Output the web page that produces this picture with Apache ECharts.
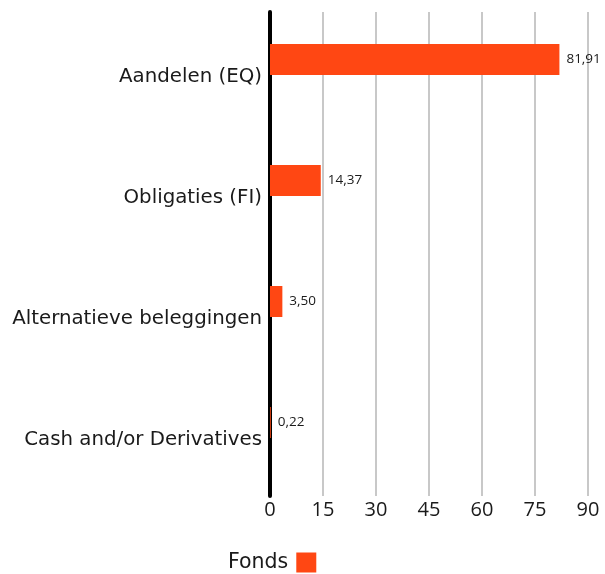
<!DOCTYPE html>
<html>
<head>
<meta charset="utf-8">
<script src="https://cdn.jsdelivr.net/npm/echarts@6/dist/echarts.min.js"></script>
<style>
html,body{margin:0;padding:0;background:#fff;}
#chart{width:605px;height:574px;}
</style>
</head>
<body>
<div id="chart"></div>
<script>
const categories = ['Aandelen (EQ)', 'Obligaties (FI)', 'Alternatieve beleggingen', 'Cash and/or Derivatives'];
const fondsValues = [81.91, 14.37, 3.50, 0.22];
const xTicks = [0, 15, 30, 45, 60, 75, 90];
const seriesName = 'Fonds';

const FONT = 'Open Sans';
const LFONT = 'DejaVu Sans';
const chart = echarts.init(document.getElementById('chart'), null, {renderer: 'canvas'});
chart.setOption({
  animation: false,
  textStyle: {fontFamily: FONT},
  grid: {left: 270, right: 17, top: 12, bottom: 78, containLabel: false},
  xAxis: {
    type: 'value',
    min: xTicks[0],
    max: xTicks[xTicks.length - 1],
    interval: 15,
    axisLine: {show: false},
    axisTick: {show: false},
    splitLine: {show: true, lineStyle: {color: '#c8c8c8', width: 2}},
    axisLabel: {color: '#1a1a1a', fontSize: 20, fontFamily: FONT, margin: 4}
  },
  yAxis: {
    type: 'category',
    data: categories,
    inverse: true,
    axisLine: {show: true, lineStyle: {color: '#000', width: 4}},
    axisTick: {show: false},
    axisLabel: {
      margin: 8,
      formatter: v => '{a|' + v + '}',
      rich: {a: {color: '#1a1a1a', fontSize: 19.8, fontFamily: LFONT, padding: [8, 0, 0, 0]}}
    }
  },
  legend: {
    data: [seriesName],
    left: 228,
    top: 552,
    padding: 0,
    align: 'right',
    icon: 'rect',
    itemWidth: 20,
    itemHeight: 20,
    itemGap: 8,
    textStyle: {color: '#1a1a1a', fontSize: 20.5, fontFamily: LFONT, padding: [0, 3, 0, 0]}
  },
  series: [
    {
      name: seriesName,
      type: 'bar',
      data: fondsValues,
      barWidth: 31,
      barGap: '-16%',
      itemStyle: {color: '#ff4713'},
      label: {
        show: true,
        position: 'right',
        distance: 7,
        fontSize: 13.5,
        color: '#1a1a1a',
        fontFamily: FONT,
        formatter: p => p.value.toFixed(2).replace('.', ',')
      }
    },
    {
      name: 'hidden',
      type: 'bar',
      data: categories.map(() => null),
      barWidth: 31,
      itemStyle: {color: 'transparent'}
    }
  ]
});
</script>
</body>
</html>
